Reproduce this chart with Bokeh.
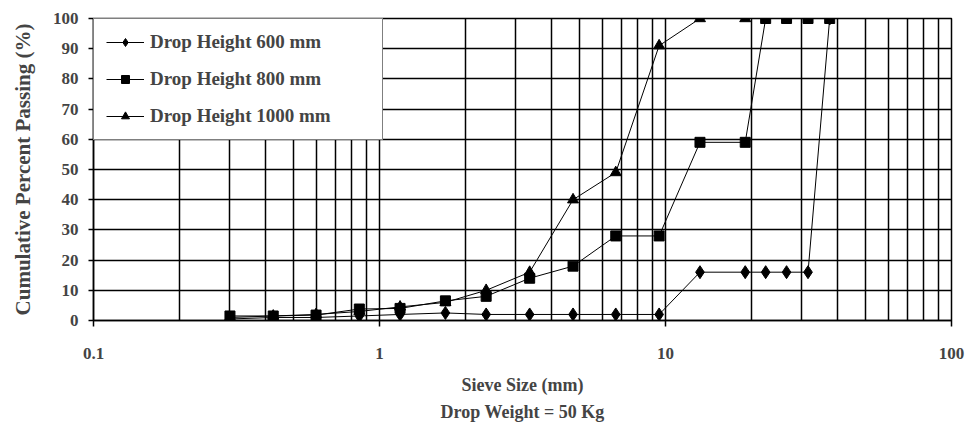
from bokeh.plotting import figure
from bokeh.models import Range1d, FixedTicker, Legend, LegendItem, Title
from bokeh.embed import file_html
from bokeh.resources import INLINE

# ---- data ----
sieve_600 = [0.3, 0.425, 0.6, 0.85, 1.18, 1.7, 2.36, 3.35, 4.75, 6.7, 9.5, 13.2, 19, 22.4, 26.5, 31.5, 37.5]
pass_600 = [0.5, 1, 1, 1.5, 2, 2.5, 2, 2, 2, 2, 2, 16, 16, 16, 16, 16, 100]

sieve_800 = [0.3, 0.425, 0.6, 0.85, 1.18, 1.7, 2.36, 3.35, 4.75, 6.7, 9.5, 13.2, 19, 22.4, 26.5, 31.5, 37.5]
pass_800 = [1.5, 1.5, 1.8, 3.8, 4, 6.5, 8, 14, 18, 28, 28, 59, 59, 100, 100, 100, 100]

sieve_1000 = [0.3, 0.425, 0.6, 0.85, 1.18, 1.7, 2.36, 3.35, 4.75, 6.7, 9.5, 13.2, 19]
pass_1000 = [1, 1.5, 2, 3, 4.5, 6, 10, 16, 40, 49, 91, 100, 100]

series_labels = ["Drop Height 600 mm", "Drop Height 800 mm", "Drop Height 1000 mm"]

x_major = [0.1, 1, 10, 100]
x_minor = [0.2, 0.3, 0.4, 0.5, 0.6, 0.7, 0.8, 0.9,
           2, 3, 4, 5, 6, 7, 8, 9,
           20, 30, 40, 50, 60, 70, 80, 90]
y_ticks = [0, 10, 20, 30, 40, 50, 60, 70, 80, 90, 100]

FONT = "Liberation Serif"

p = figure(width=966, height=431, x_axis_type="log",
           x_range=Range1d(0.1, 100), y_range=Range1d(0, 100),
           output_backend="svg", toolbar_location=None,
           min_border_left=93, min_border_right=15, min_border_top=18, min_border_bottom=111)

p.background_fill_color = "white"
p.border_fill_color = "white"
p.outline_line_color = "black"
p.outline_line_width = 1.5

# x axis
p.xaxis.ticker = FixedTicker(ticks=x_major, minor_ticks=x_minor)
p.xaxis.major_label_overrides = {0.1: "0.1", 1: "1", 10: "10", 100: "100"}
p.xaxis.axis_label = "Sieve Size (mm)"
p.xaxis.axis_label_text_font = FONT
p.xaxis.axis_label_text_font_style = "bold"
p.xaxis.axis_label_text_font_size = "18px"
p.xaxis.axis_label_standoff = 13
p.xaxis.major_label_text_font = FONT
p.xaxis.major_label_text_font_style = "bold"
p.xaxis.major_label_text_font_size = "17px"
p.xaxis.major_label_standoff = 21
p.xaxis.major_tick_out = 6
p.xaxis.major_tick_in = 0
p.xaxis.minor_tick_line_color = None
p.xaxis.axis_line_color = "black"
p.xaxis.axis_line_width = 1.5
p.xaxis.major_tick_line_width = 1.5

# y axis
p.yaxis.ticker = FixedTicker(ticks=y_ticks)
p.yaxis.axis_label = "Cumulative Percent Passing (%)"
p.yaxis.axis_label_text_font = FONT
p.yaxis.axis_label_text_font_style = "bold"
p.yaxis.axis_label_text_font_size = "21px"
p.yaxis.axis_label_standoff = 15
p.yaxis.major_label_text_font = FONT
p.yaxis.major_label_text_font_style = "bold"
p.yaxis.major_label_text_font_size = "17px"
p.yaxis.major_label_standoff = 10
p.yaxis.major_tick_out = 5
p.yaxis.major_tick_in = 0
p.yaxis.minor_tick_line_color = None
p.yaxis.axis_line_color = "black"
p.yaxis.axis_line_width = 1.5
p.yaxis.major_tick_line_width = 1.5

# grids
p.xgrid.grid_line_color = "black"
p.xgrid.grid_line_width = 1.5
p.xgrid.minor_grid_line_color = "black"
p.xgrid.minor_grid_line_width = 1.5
p.ygrid.grid_line_color = "black"
p.ygrid.grid_line_width = 1.5

# series
l1 = p.line(sieve_600, pass_600, line_color="black", line_width=1)
s1 = p.scatter(sieve_600, pass_600, marker="diamond", size=13, fill_color="black", line_color="black")
l2 = p.line(sieve_800, pass_800, line_color="black", line_width=1)
s2 = p.scatter(sieve_800, pass_800, marker="square", size=10, fill_color="black", line_color="black")
l3 = p.line(sieve_1000, pass_1000, line_color="black", line_width=1)
s3 = p.scatter(sieve_1000, pass_1000, marker="triangle", size=11, fill_color="black", line_color="black")

legend = Legend(items=[
    LegendItem(label=series_labels[0], renderers=[l1, s1]),
    LegendItem(label=series_labels[1], renderers=[l2, s2]),
    LegendItem(label=series_labels[2], renderers=[l3, s3]),
], location="top_left")
legend.margin = 0
legend.padding = 12
legend.spacing = 15
legend.glyph_width = 38
legend.glyph_height = 20
legend.label_height = 20
legend.label_width = 220
legend.label_standoff = 6
legend.label_text_font = FONT
legend.label_text_font_style = "bold"
legend.label_text_font_size = "19px"
legend.border_line_color = "black"
legend.border_line_width = 1.5
legend.background_fill_color = "white"
legend.background_fill_alpha = 1.0
p.add_layout(legend)

sub = Title(text="Drop Weight = 50 Kg", align="center", text_font=FONT,
            text_font_style="bold", text_font_size="18px", standoff=4)
p.add_layout(sub, "below")

open("out.html", "w").write(file_html(p, INLINE))
